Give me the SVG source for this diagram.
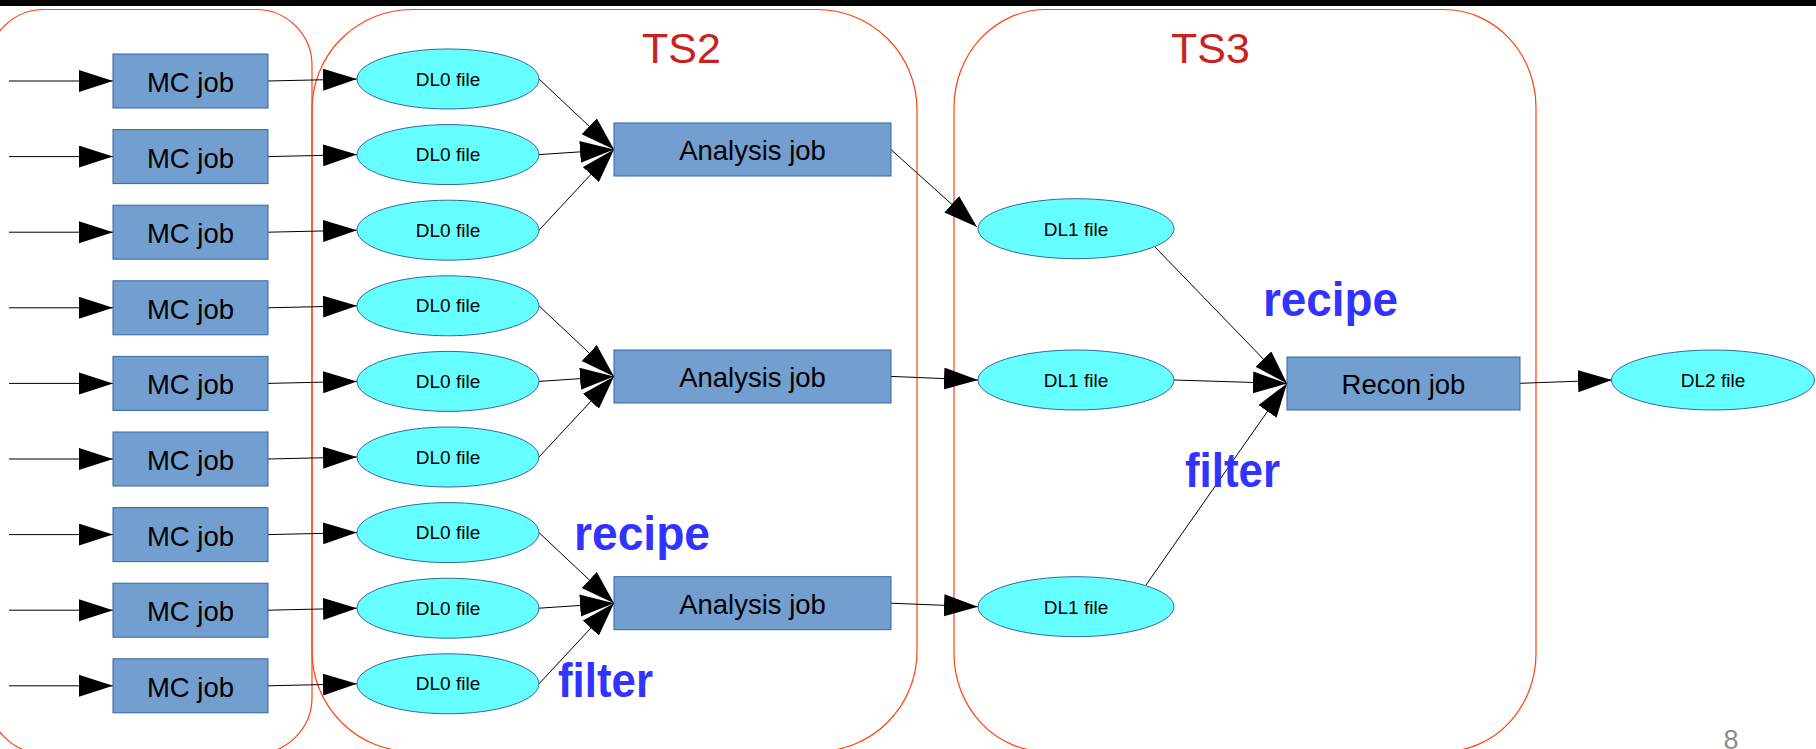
<svg xmlns="http://www.w3.org/2000/svg" width="1816" height="749" viewBox="0 0 1816 749">
<defs>
<marker id="ah" markerUnits="userSpaceOnUse" markerWidth="36" markerHeight="24" refX="34" refY="11" orient="auto" viewBox="0 0 36 24">
<path d="M0,0 L34,11 L0,22 z" fill="#000"/>
</marker>
<style>
.zone{fill:none;stroke:#ff420e;stroke-width:1.2}
.box{fill:#729fcf;stroke:#3465a4;stroke-width:1}
.ell{fill:#66ffff;stroke:#3465a4;stroke-width:1}
.bt{font-family:"Liberation Sans",Arial,sans-serif;font-size:27.5px;fill:#000;text-anchor:middle}
.et{font-family:"Liberation Sans",Arial,sans-serif;font-size:19px;fill:#000;text-anchor:middle}
.ts{font-family:"Liberation Sans",Arial,sans-serif;font-size:43px;fill:#c9211e;text-anchor:middle}
.lbl{font-family:"Liberation Sans",Arial,sans-serif;font-size:48px;font-weight:bold;fill:#3333ff}
.cn line{stroke:#000;stroke-width:1;marker-end:url(#ah)}
</style>
</defs>
<rect x="0" y="0" width="1816" height="749" fill="#fff"/>
<rect x="0" y="0" width="1816" height="6" fill="#000"/>
<g id="zones">
<rect class="zone" x="-12" y="9.5" width="324" height="744" rx="56" ry="56"/>
<rect class="zone" x="312" y="9.5" width="605" height="742" rx="100" ry="100"/>
<rect class="zone" x="954" y="9.5" width="582" height="742" rx="92" ry="98"/>
</g>
<g id="titles">
<text class="ts" x="681.5" y="63">TS2</text>
<text class="ts" x="1210.5" y="63">TS3</text>
</g>
<g id="connectors" class="cn">
<line x1="9" y1="81" x2="113" y2="81"/>
<line x1="9" y1="156.6" x2="113" y2="156.6"/>
<line x1="9" y1="232.2" x2="113" y2="232.2"/>
<line x1="9" y1="307.8" x2="113" y2="307.8"/>
<line x1="9" y1="383.4" x2="113" y2="383.4"/>
<line x1="9" y1="459" x2="113" y2="459"/>
<line x1="9" y1="534.6" x2="113" y2="534.6"/>
<line x1="9" y1="610.2" x2="113" y2="610.2"/>
<line x1="9" y1="685.8" x2="113" y2="685.8"/>
<line x1="268" y1="81" x2="357" y2="79"/>
<line x1="268" y1="156.6" x2="357" y2="154.6"/>
<line x1="268" y1="232.2" x2="357" y2="230.2"/>
<line x1="268" y1="307.8" x2="357" y2="305.8"/>
<line x1="268" y1="383.4" x2="357" y2="381.4"/>
<line x1="268" y1="459" x2="357" y2="457"/>
<line x1="268" y1="534.6" x2="357" y2="532.6"/>
<line x1="268" y1="610.2" x2="357" y2="608.2"/>
<line x1="268" y1="685.8" x2="357" y2="683.8"/>
<line x1="539" y1="79" x2="614" y2="149.6"/>
<line x1="539" y1="154.6" x2="614" y2="149.6"/>
<line x1="539" y1="230.2" x2="614" y2="149.6"/>
<line x1="539" y1="305.8" x2="614" y2="376.4"/>
<line x1="539" y1="381.4" x2="614" y2="376.4"/>
<line x1="539" y1="457" x2="614" y2="376.4"/>
<line x1="539" y1="532.6" x2="614" y2="603.2"/>
<line x1="539" y1="608.2" x2="614" y2="603.2"/>
<line x1="539" y1="683.8" x2="614" y2="603.2"/>
<line x1="891" y1="149.6" x2="977" y2="227"/>
<line x1="891" y1="376.4" x2="978" y2="380"/>
<line x1="891" y1="603.2" x2="978" y2="606.7"/>
<line x1="1155" y1="247" x2="1287" y2="383.5"/>
<line x1="1174" y1="380" x2="1287" y2="383.5"/>
<line x1="1146" y1="585" x2="1287" y2="383.5"/>
<line x1="1520" y1="383.3" x2="1612" y2="380"/>
</g>
<g id="mc1"><rect class="box" x="113" y="54" width="155" height="54"/><text class="bt" x="190.5" y="92">MC job</text></g>
<g id="mc2"><rect class="box" x="113" y="129.6" width="155" height="54"/><text class="bt" x="190.5" y="167.6">MC job</text></g>
<g id="mc3"><rect class="box" x="113" y="205.2" width="155" height="54"/><text class="bt" x="190.5" y="243.2">MC job</text></g>
<g id="mc4"><rect class="box" x="113" y="280.8" width="155" height="54"/><text class="bt" x="190.5" y="318.8">MC job</text></g>
<g id="mc5"><rect class="box" x="113" y="356.4" width="155" height="54"/><text class="bt" x="190.5" y="394.4">MC job</text></g>
<g id="mc6"><rect class="box" x="113" y="432" width="155" height="54"/><text class="bt" x="190.5" y="470">MC job</text></g>
<g id="mc7"><rect class="box" x="113" y="507.6" width="155" height="54"/><text class="bt" x="190.5" y="545.6">MC job</text></g>
<g id="mc8"><rect class="box" x="113" y="583.2" width="155" height="54"/><text class="bt" x="190.5" y="621.2">MC job</text></g>
<g id="mc9"><rect class="box" x="113" y="658.8" width="155" height="54"/><text class="bt" x="190.5" y="696.8">MC job</text></g>
<g id="dl0-1"><ellipse class="ell" cx="448" cy="79" rx="91" ry="30"/><text class="et" x="448" y="85.5">DL0 file</text></g>
<g id="dl0-2"><ellipse class="ell" cx="448" cy="154.6" rx="91" ry="30"/><text class="et" x="448" y="161.1">DL0 file</text></g>
<g id="dl0-3"><ellipse class="ell" cx="448" cy="230.2" rx="91" ry="30"/><text class="et" x="448" y="236.7">DL0 file</text></g>
<g id="dl0-4"><ellipse class="ell" cx="448" cy="305.8" rx="91" ry="30"/><text class="et" x="448" y="312.3">DL0 file</text></g>
<g id="dl0-5"><ellipse class="ell" cx="448" cy="381.4" rx="91" ry="30"/><text class="et" x="448" y="387.9">DL0 file</text></g>
<g id="dl0-6"><ellipse class="ell" cx="448" cy="457" rx="91" ry="30"/><text class="et" x="448" y="463.5">DL0 file</text></g>
<g id="dl0-7"><ellipse class="ell" cx="448" cy="532.6" rx="91" ry="30"/><text class="et" x="448" y="539.1">DL0 file</text></g>
<g id="dl0-8"><ellipse class="ell" cx="448" cy="608.2" rx="91" ry="30"/><text class="et" x="448" y="614.7">DL0 file</text></g>
<g id="dl0-9"><ellipse class="ell" cx="448" cy="683.8" rx="91" ry="30"/><text class="et" x="448" y="690.3">DL0 file</text></g>
<g id="ana1"><rect class="box" x="614" y="123" width="277" height="53"/><text class="bt" x="752.5" y="160">Analysis job</text></g>
<g id="ana2"><rect class="box" x="614" y="350" width="277" height="53"/><text class="bt" x="752.5" y="387">Analysis job</text></g>
<g id="ana3"><rect class="box" x="614" y="576.7" width="277" height="53"/><text class="bt" x="752.5" y="613.7">Analysis job</text></g>
<g id="dl1-1"><ellipse class="ell" cx="1076" cy="228.7" rx="98" ry="30"/><text class="et" x="1076" y="235.7">DL1 file</text></g>
<g id="dl1-2"><ellipse class="ell" cx="1076" cy="380" rx="98" ry="30"/><text class="et" x="1076" y="387">DL1 file</text></g>
<g id="dl1-3"><ellipse class="ell" cx="1076" cy="606.7" rx="98" ry="30"/><text class="et" x="1076" y="613.7">DL1 file</text></g>
<g id="recon"><rect class="box" x="1287" y="357" width="233" height="53"/><text class="bt" x="1403.5" y="394">Recon job</text></g>
<g id="dl2"><ellipse class="ell" cx="1713" cy="380" rx="101.5" ry="30"/><text class="et" x="1713" y="387">DL2 file</text></g>
<g id="labels">
<text class="lbl" x="1263" y="316" textLength="135" lengthAdjust="spacingAndGlyphs">recipe</text>
<text class="lbl" x="1185" y="487" textLength="95" lengthAdjust="spacingAndGlyphs">filter</text>
<text class="lbl" x="574" y="550" textLength="136" lengthAdjust="spacingAndGlyphs">recipe</text>
<text class="lbl" x="558" y="697" textLength="95" lengthAdjust="spacingAndGlyphs">filter</text>
</g>
<text x="1731" y="749" font-family="Liberation Sans, Arial, sans-serif" font-size="27" fill="#8c8c8c" text-anchor="middle">8</text>
</svg>
